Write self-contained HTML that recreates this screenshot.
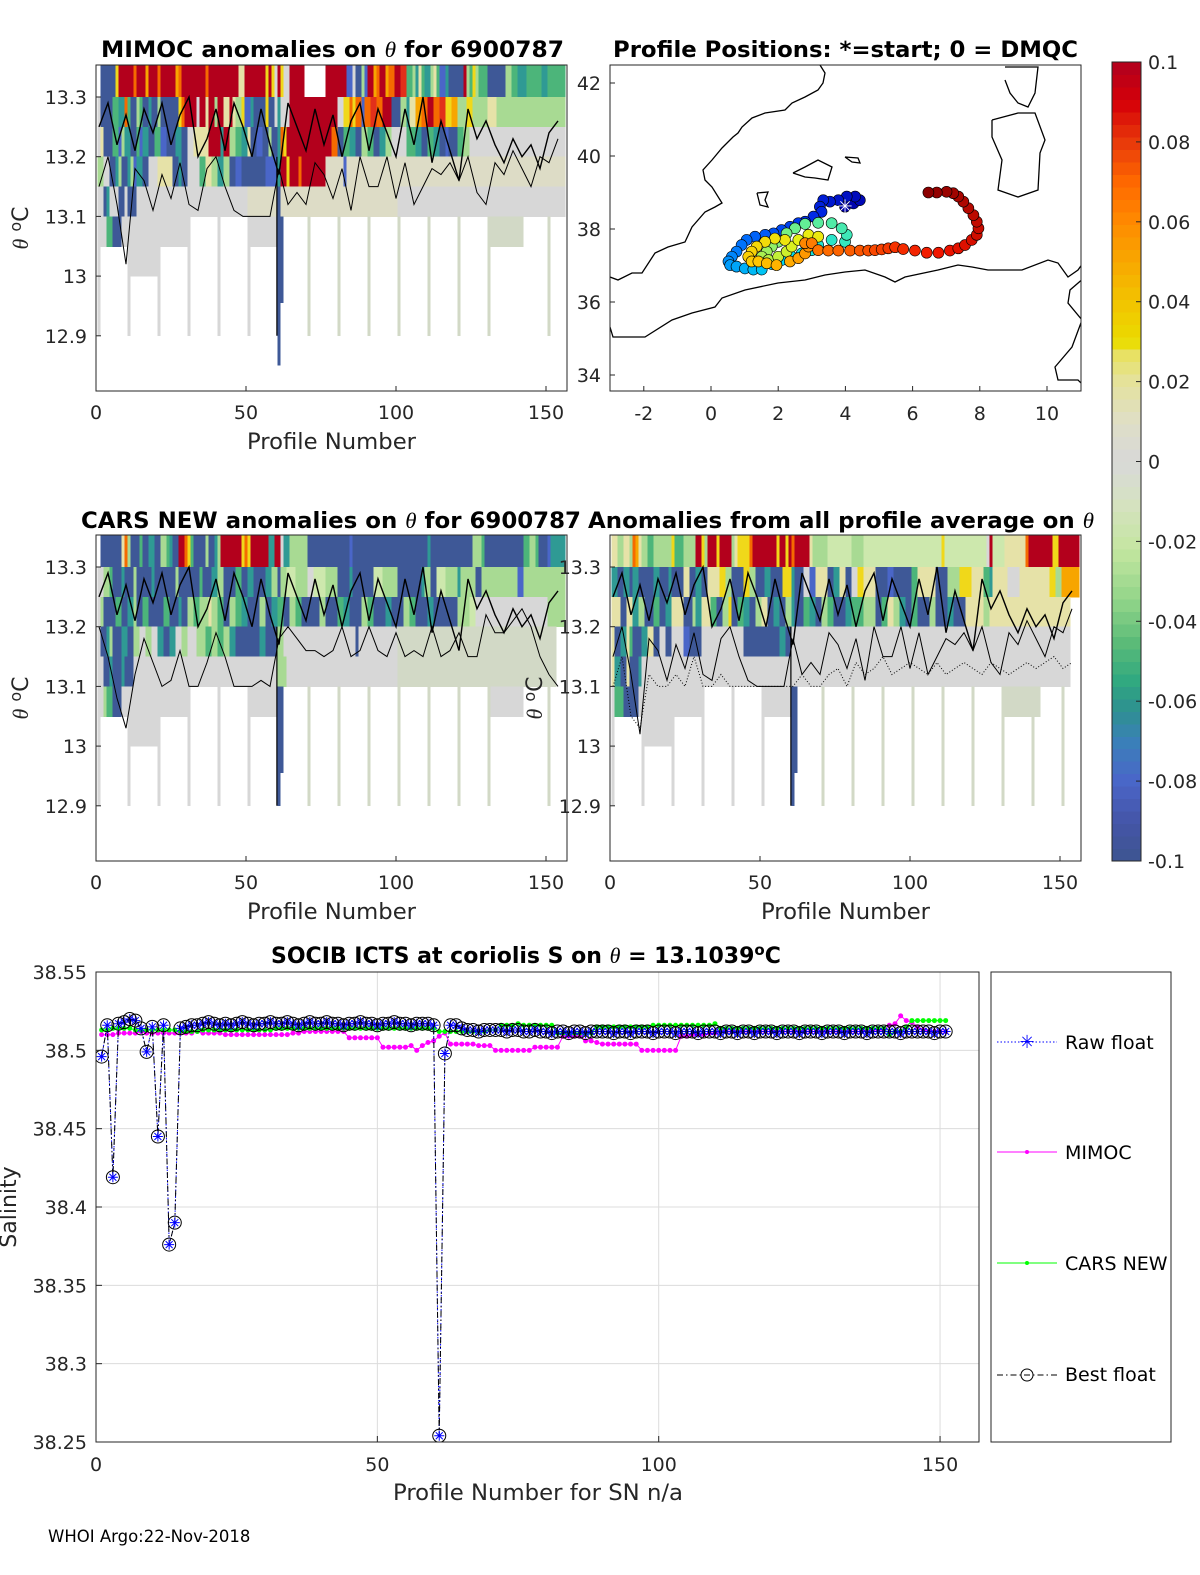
<!DOCTYPE html>
<html><head><meta charset="utf-8"><title>Float 6900787 anomaly and salinity diagnostics</title>
<style>
html,body{margin:0;padding:0;background:#fff;overflow:hidden;width:1200px;height:1575px;}
svg{display:block;font-family:"DejaVu Sans","Liberation Sans",sans-serif;}
.tk{font-size:19px;fill:#262626;}
.ttl{font-size:22px;font-weight:bold;fill:#000;}
.lab{font-size:22px;fill:#262626;}
</style></head>
<body>
<svg id="fig" xmlns="http://www.w3.org/2000/svg" width="1200" height="1575" viewBox="0 0 1200 1575">
<rect x="0" y="0" width="1200" height="1575" fill="#fff"/>
<defs>
<clipPath id="c1"><rect x="96" y="65" width="471" height="326"/></clipPath>
<clipPath id="c3"><rect x="96" y="535" width="471" height="326"/></clipPath>
<clipPath id="c4"><rect x="610" y="535" width="471" height="326"/></clipPath>
<clipPath id="c2"><rect x="610" y="65" width="471" height="326"/></clipPath>
<clipPath id="c5"><rect x="96" y="972" width="883" height="470"/></clipPath>
</defs>

<!-- Titles -->
<text class="ttl" x="101" y="57" textLength="463" lengthAdjust="spacingAndGlyphs">MIMOC anomalies on <tspan font-family="Liberation Serif" font-style="italic" font-weight="normal">θ</tspan>  for 6900787</text>
<text class="ttl" x="613" y="57" textLength="465" lengthAdjust="spacingAndGlyphs">Profile Positions: *=start; 0 = DMQC</text>
<text class="ttl" x="81" y="528" textLength="500" lengthAdjust="spacingAndGlyphs">CARS NEW anomalies on <tspan font-family="Liberation Serif" font-style="italic" font-weight="normal">θ</tspan> for 6900787</text>
<text class="ttl" x="588" y="528" textLength="506" lengthAdjust="spacingAndGlyphs">Anomalies from all profile average on <tspan font-family="Liberation Serif" font-style="italic" font-weight="normal">θ</tspan></text>
<text class="ttl" x="271" y="963">SOCIB ICTS at coriolis S on <tspan font-family="Liberation Serif" font-style="italic" font-weight="normal">θ</tspan> = 13.1039<tspan dy="-8" font-size="15">o</tspan><tspan dy="8">C</tspan></text>

<g id="p1"></g>
<g id="p2"></g>
<g id="p3"></g>
<g id="p4"></g>
<g id="cb"></g>
<g id="p5"></g>

<!-- axis labels -->
<text class="lab" x="247" y="449" textLength="169" lengthAdjust="spacingAndGlyphs">Profile Number</text>
<text class="lab" x="247" y="919" textLength="169" lengthAdjust="spacingAndGlyphs">Profile Number</text>
<text class="lab" x="761" y="919" textLength="169" lengthAdjust="spacingAndGlyphs">Profile Number</text>
<text class="lab" transform="translate(28,228) rotate(-90)" text-anchor="middle"><tspan font-family="Liberation Serif" font-style="italic">θ</tspan> <tspan dy="-7" font-size="16">o</tspan><tspan dy="7">C</tspan></text>
<text class="lab" transform="translate(28,698) rotate(-90)" text-anchor="middle"><tspan font-family="Liberation Serif" font-style="italic">θ</tspan> <tspan dy="-7" font-size="16">o</tspan><tspan dy="7">C</tspan></text>
<text class="lab" transform="translate(542,698) rotate(-90)" text-anchor="middle"><tspan font-family="Liberation Serif" font-style="italic">θ</tspan> <tspan dy="-7" font-size="16">o</tspan><tspan dy="7">C</tspan></text>
<text class="lab" x="393" y="1500" textLength="290" lengthAdjust="spacingAndGlyphs">Profile Number for SN n/a</text>
<text class="lab" transform="translate(16,1207) rotate(-90)" text-anchor="middle">Salinity</text>
<text x="48" y="1542" font-size="16.5" fill="#000">WHOI Argo:22-Nov-2018</text>

<!-- legend -->
<g>
<rect x="991" y="972" width="180" height="470" fill="#fff" stroke="#262626" stroke-width="1"/>
<g>
<line x1="997" y1="1042" x2="1057" y2="1042" stroke="#0000ff" stroke-dasharray="1.5,2"/>
<text x="1027" y="1048" text-anchor="middle" font-size="18" fill="#0000ff">✳</text>
<text x="1065" y="1049" font-size="19" fill="#000">Raw float</text></g>
<g>
<line x1="997" y1="1152" x2="1057" y2="1152" stroke="#ff00ff"/>
<circle cx="1027" cy="1152" r="2" fill="#ff00ff"/>
<text x="1065" y="1159" font-size="19" fill="#000">MIMOC</text></g>
<g>
<line x1="997" y1="1263" x2="1057" y2="1263" stroke="#00ff00"/>
<circle cx="1027" cy="1263" r="2" fill="#00ff00"/>
<text x="1065" y="1270" font-size="19" fill="#000">CARS NEW</text></g>
<g>
<line x1="997" y1="1375" x2="1057" y2="1375" stroke="#000" stroke-dasharray="6,3,1.5,3"/>
<circle cx="1027" cy="1375" r="6" fill="none" stroke="#000"/>
<text x="1065" y="1381" font-size="19" fill="#000">Best float</text></g>
</g>
</svg>

<script>
// ---------------- DATA ----------------
const profileTicks = [0, 50, 100, 150];
const thetaTicks = [13.3, 13.2, 13.1, 13.0, 12.9];
const thetaTickLabels = ["13.3", "13.2", "13.1", "13", "12.9"];
const lonTicks = [-2, 0, 2, 4, 6, 8, 10];
const latTicks = [42, 40, 38, 36, 34];
const cbTicks = [0.1, 0.08, 0.06, 0.04, 0.02, 0, -0.02, -0.04, -0.06, -0.08, -0.1];
const cbTickLabels = ["0.1", "0.08", "0.06", "0.04", "0.02", "0", "-0.02", "-0.04", "-0.06", "-0.08", "-0.1"];
const salTicks = [38.55, 38.5, 38.45, 38.4, 38.35, 38.3, 38.25];
const salTickLabels = ["38.55", "38.5", "38.45", "38.4", "38.35", "38.3", "38.25"];

const mimocRows = [
".:1 B:6 Y:7 R:12 O:13 R:16 o:17 R:20 O:21 R:26 o:27 O:28 R:36 O:37 R:47 y:49 R:56 Y:57 R:58 Y:59 w:60 R:61 Y:62 w:64 R:69 .:76 R:83 b:85 w:86 B:88 l:89 b:90 R:92 o:93 O:94 R:96 o:97 O:99 R:101 r:103 g:105 l:106 T:107 y:108 g:109 T:111 l:112 y:113 g:114 b:116 T:117 B:122 R:123 l:124 g:125 Y:126 l:127 g:130 B:136 l:138 g:140 T:143 g:148 T:150 g:156",
"w:1 B:5 g:7 T:9 O:10 g:11 B:13 l:14 g:15 B:17 T:18 B:20 l:21 B:27 Y:28 O:29 R:33 w:34 R:36 y:37 R:39 l:40 R:42 y:44 R:45 y:46 l:48 Y:49 b:51 T:52 B:56 Y:57 B:59 w:60 T:61 w:64 R:80 w:82 Y:84 O:85 Y:86 O:88 b:89 O:91 r:93 O:95 R:98 B:101 l:103 T:104 y:106 o:108 O:110 R:112 O:114 r:116 Y:118 o:120 l:123 Y:125 l:130 y:133 l:156",
"w:1 y:2 B:5 g:7 b:8 l:9 T:11 B:13 g:14 b:15 T:17 B:19 g:21 b:23 B:26 T:28 B:30 w:32 y:37 R:41 T:42 R:44 l:46 g:48 T:50 y:51 B:53 b:55 B:57 l:58 B:60 T:61 O:62 Y:63 R:78 O:80 B:82 g:84 T:86 B:88 l:90 g:92 B:94 T:96 l:98 w:103 g:106 T:108 B:110 g:112 T:114 B:116 b:117 B:120 g:122 l:124 w:156",
"l:2 w:4 B:6 T:7 l:8 B:10 T:11 l:12 b:13 T:15 B:17 w:20 y:25 B:27 T:28 B:30 w:34 g:36 y:38 l:40 T:42 l:44 B:46 b:48 B:56 b:60 T:61 R:63 Y:64 R:67 O:68 R:76 q:82 b:83 q:156",
"w:2 B:3 T:4 w:7 B:9 w:10 B:13 w:50 q:60 B:61 q:100 w:156",
"w:3 g:5 B:8 w:31 .:40 w:41 .:50 w:60 B:61 .:130 h:142 .:156",
"w:1 .:10 w:20 .:30 w:31 .:156"
];
const carsRows = [
".:1 B:8 y:9 O:10 l:11 B:14 g:15 B:17 T:19 B:21 l:23 g:24 T:25 B:27 R:29 O:30 Y:31 g:32 B:36 l:37 B:39 T:40 l:41 R:48 Y:49 O:50 Y:51 R:57 T:59 R:61 w:62 T:64 l:66 l:70 B:84 b:85 B:110 T:111 B:125 l:128 g:129 B:142 g:144 l:146 g:147 B:150 b:151 T:156",
"w:2 l:4 g:5 B:8 T:9 B:12 l:13 B:18 T:19 B:26 l:27 B:34 g:35 B:38 T:40 l:42 B:46 g:48 B:50 T:52 B:56 T:58 l:60 B:61 l:63 p:66 l:70 w:72 p:76 l:80 B:84 T:85 B:92 p:95 l:100 B:108 T:109 l:111 B:113 p:116 l:120 T:121 l:126 B:128 l:140 b:142 l:156",
"w:1 l:2 B:6 g:8 B:10 T:12 l:13 B:15 g:17 B:22 g:24 B:27 T:28 B:30 l:32 g:34 l:37 y:38 l:40 g:42 B:44 l:46 g:48 T:50 B:54 l:56 B:58 T:60 g:62 B:64 l:66 g:68 B:74 l:76 B:80 g:82 T:84 B:88 l:90 g:92 B:96 T:98 B:102 l:104 g:106 B:110 T:112 B:120 l:124 p:126 w:150 l:156",
"w:1 B:3 T:4 l:5 B:8 T:10 B:12 l:14 w:16 l:18 w:20 T:22 B:24 T:26 w:28 l:30 w:33 l:36 g:38 l:40 g:42 l:44 T:46 B:54 T:56 B:60 l:62 w:86 B:87 w:100 h:153 .:156",
"w:2 B:4 T:5 B:8 T:9 B:12 w:60 l:63 w:100 h:153 .:156",
"w:2 l:3 g:5 B:8 w:31 .:40 w:41 .:50 w:60 B:61 .:130 w:142 .:156",
"w:1 .:10 w:20 .:30 w:31 .:156"
];
const avgRows = [
"y:2 l:4 y:6 l:7 O:8 o:9 y:10 l:12 g:14 l:20 Y:21 g:24 l:28 R:30 Y:31 l:32 R:35 Y:36 R:40 l:41 y:42 Y:46 O:47 R:55 Y:56 R:58 Y:59 R:60 O:61 R:66 y:67 l:72 p:80 l:84 p:110 Y:111 p:125 w:126 R:127 p:131 y:138 O:139 R:147 Y:149 R:156",
"T:2 B:4 T:6 B:7 T:9 B:14 T:16 B:19 T:20 B:24 y:26 B:28 T:30 B:32 y:36 Y:38 l:40 B:44 Y:46 l:48 B:51 T:53 B:57 Y:60 T:61 B:64 w:66 b:68 y:72 B:74 T:76 y:78 B:80 w:82 Y:84 y:88 B:92 b:94 B:100 g:102 y:108 B:112 l:116 Y:120 y:124 g:126 T:127 y:132 w:136 y:146 Y:148 l:150 o:156",
"y:3 B:5 y:7 T:9 l:11 B:14 g:16 B:18 T:20 y:24 B:27 l:28 T:30 y:33 g:35 B:37 l:39 Y:40 B:42 g:44 T:46 B:48 l:50 y:52 B:54 T:56 B:58 l:60 T:61 B:64 g:66 T:68 B:70 l:72 g:74 B:78 T:80 g:84 l:88 B:90 g:92 y:94 l:96 T:98 B:100 g:102 B:106 l:108 B:112 T:114 B:118 y:124 l:126 y:153 .:156",
"y:1 B:3 T:5 y:6 g:7 B:10 T:12 y:14 B:16 w:18 B:20 w:24 b:26 B:30 w:44 B:56 T:58 B:60 w:153 .:156",
"y:1 T:3 B:5 y:6 B:9 T:10 w:153 .:156",
"y:1 g:4 B:9 w:31 .:40 w:41 .:50 w:60 B:61 .:130 h:143 .:156",
"w:1 .:10 w:20 .:30 w:31 .:156"
];
const deepProfilesA = [1, 11, 21, 31, 41, 51, 71, 81, 91, 101, 111, 121, 131, 151];
const deepProfilesB = [1, 11, 21, 31, 41, 51, 71, 81, 91, 101, 111, 121, 131, 141, 151];
const deepBlueProfile = 61;
const mimocDeepMin = 12.85;
const carsDeepMin = 12.9;
const avgDeepMin = 12.9;

const lineUpper = [13.25,13.29,13.22,13.27,13.21,13.28,13.24,13.29,13.22,13.27,13.3,13.2,13.23,13.28,13.21,13.29,13.25,13.2,13.28,13.22,13.17,13.29,13.25,13.21,13.28,13.22,13.27,13.2,13.26,13.29,13.21,13.28,13.24,13.2,13.28,13.22,13.3,13.19,13.26,13.21,13.16,13.28,13.23,13.26,13.22,13.19,13.23,13.2,13.22,13.18,13.24,13.26];
const lineLower = [13.15,13.2,13.12,13.02,13.18,13.16,13.11,13.17,13.13,13.19,13.12,13.11,13.18,13.2,13.15,13.11,13.1,13.1,13.1,13.1,13.18,13.12,13.14,13.12,13.19,13.17,13.13,13.18,13.11,13.2,13.15,13.15,13.2,13.13,13.19,13.12,13.15,13.18,13.17,13.19,13.16,13.2,13.14,13.12,13.19,13.17,13.21,13.18,13.15,13.2,13.19,13.23];
const lineLowerCars = [13.2,13.15,13.08,13.03,13.12,13.18,13.14,13.1,13.11,13.16,13.1,13.1,13.14,13.19,13.15,13.1,13.1,13.1,13.11,13.1,13.18,13.2,13.18,13.16,13.16,13.15,13.16,13.2,13.15,13.16,13.2,13.16,13.15,13.19,13.15,13.16,13.15,13.2,13.15,13.16,13.19,13.15,13.15,13.22,13.19,13.19,13.21,13.23,13.2,13.15,13.12,13.1];
const lineDottedAvg = [13.1,13.15,13.05,13.03,13.12,13.1,13.1,13.12,13.1,13.15,13.1,13.1,13.12,13.1,13.1,13.1,13.1,13.1,13.1,13.1,13.1,13.12,13.1,13.1,13.12,13.13,13.1,13.14,13.12,13.13,13.15,13.12,13.13,13.14,13.13,13.12,13.14,13.12,13.13,13.14,13.13,13.12,13.14,13.13,13.12,13.13,13.14,13.13,13.14,13.15,13.13,13.14];

const trackLon = [3.99,4.24,4.43,4.29,4.04,3.79,3.54,3.34,3.24,3.29,3.05,2.80,2.60,2.35,2.10,1.86,1.61,1.31,1.06,0.91,0.76,0.62,0.52,0.57,0.76,1.01,1.26,1.51,1.81,2.10,2.40,2.70,3.00,3.19,3.59,3.99,4.04,3.89,3.59,3.19,2.80,2.50,2.25,2.00,1.81,1.66,1.51,1.71,2.00,2.25,2.40,2.60,2.90,3.19,2.20,1.90,1.61,1.36,1.21,1.11,1.21,1.41,1.66,1.95,2.35,2.60,2.80,2.90,2.80,3.00,3.19,3.49,3.79,4.14,4.43,4.68,4.88,5.08,5.28,5.48,5.72,6.07,6.42,6.77,7.11,7.36,7.56,7.76,7.91,7.96,7.91,7.81,7.66,7.51,7.36,7.21,7.01,6.72,6.47];
const trackLat = [38.61,38.70,38.79,38.89,38.89,38.79,38.75,38.79,38.61,38.47,38.34,38.20,38.16,38.06,37.97,37.88,37.84,37.79,37.70,37.56,37.38,37.24,37.11,37.01,36.97,36.92,36.89,36.89,37.04,37.15,37.24,37.33,37.42,37.56,37.70,37.65,37.84,38.02,38.16,38.17,38.14,38.02,37.88,37.65,37.52,37.38,37.24,37.15,37.24,37.38,37.52,37.70,37.84,37.79,37.70,37.74,37.65,37.52,37.38,37.24,37.11,37.11,37.06,37.01,37.11,37.20,37.33,37.52,37.61,37.61,37.42,37.41,37.41,37.41,37.41,37.41,37.42,37.44,37.47,37.50,37.45,37.41,37.35,37.35,37.41,37.47,37.56,37.70,37.84,38.02,38.20,38.38,38.57,38.75,38.89,38.98,39.02,39.00,39.00];

const bestFloat = [38.496,38.516,38.419,38.517,38.518,38.520,38.519,38.514,38.499,38.515,
38.445,38.516,38.376,38.390,38.514,38.515,38.516,38.516,38.517,38.518,
38.517,38.516,38.517,38.516,38.517,38.518,38.517,38.516,38.517,38.517,
38.518,38.517,38.517,38.518,38.517,38.516,38.517,38.518,38.517,38.517,
38.518,38.517,38.517,38.516,38.517,38.517,38.518,38.517,38.517,38.516,
38.517,38.517,38.518,38.517,38.517,38.516,38.517,38.517,38.517,38.516,
38.254,38.498,38.516,38.516,38.514,38.513,38.513,38.512,38.513,38.513,
38.513,38.513,38.512,38.513,38.513,38.512,38.512,38.513,38.512,38.512,
38.511,38.512,38.512,38.511,38.512,38.512,38.511,38.512,38.512,38.512,
38.512,38.511,38.512,38.512,38.511,38.512,38.512,38.512,38.511,38.512,
38.512,38.512,38.511,38.512,38.512,38.512,38.511,38.512,38.512,38.512,
38.511,38.512,38.512,38.511,38.512,38.512,38.511,38.512,38.512,38.512,
38.511,38.512,38.512,38.512,38.511,38.512,38.512,38.512,38.511,38.512,
38.512,38.512,38.511,38.512,38.512,38.512,38.511,38.512,38.512,38.512,
38.512,38.512,38.511,38.512,38.512,38.512,38.512,38.512,38.511,38.512,
38.512];
const rawFloat = [38.496,38.516,38.419,38.517,38.518,38.520,38.519,38.514,38.499,38.515,
38.445,38.516,38.376,38.390,38.514,38.515,38.516,38.516,38.517,38.518,
38.517,38.516,38.517,38.516,38.517,38.518,38.517,38.516,38.517,38.517,
38.518,38.517,38.517,38.518,38.517,38.516,38.517,38.518,38.517,38.517,
38.518,38.517,38.517,38.516,38.517,38.517,38.518,38.517,38.517,38.516,
38.517,38.517,38.518,38.517,38.517,38.516,38.517,38.517,38.517,38.516,
38.254,38.498,38.516,38.516,38.514,38.513,38.513,38.512,38.513,38.513,
38.513,38.513,38.512,38.513,38.513,38.512,38.512,38.513,38.512,38.512,
38.511,38.512,38.512,38.511,38.512,38.512,38.511,38.512,38.512,38.512,
38.512,38.511,38.512,38.512,38.511,38.512,38.512,38.512,38.511,38.512,
38.512,38.512,38.511,38.512,38.512,38.512,38.511,38.512,38.512,38.512,
38.511,38.512,38.512,38.511,38.512,38.512,38.511,38.512,38.512,38.512,
38.511,38.512,38.512,38.512,38.511,38.512,38.512,38.512,38.511,38.512,
38.512,38.512,38.511,38.512,38.512,38.512,38.511,38.512,38.512,38.512,
38.512,38.512,38.511,38.512,38.512,38.512,38.512,38.512,38.511,38.512,
38.512];
const mimocSal = [38.510,38.510,38.510,38.511,38.511,38.511,38.511,38.512,38.511,38.511,
38.511,38.511,38.511,38.511,38.511,38.511,38.511,38.512,38.511,38.511,
38.511,38.511,38.510,38.510,38.510,38.510,38.510,38.510,38.510,38.510,
38.510,38.510,38.510,38.510,38.511,38.511,38.512,38.512,38.512,38.512,
38.512,38.512,38.512,38.512,38.508,38.508,38.508,38.508,38.508,38.508,
38.502,38.502,38.502,38.502,38.502,38.503,38.500,38.503,38.505,38.506,
38.509,38.511,38.504,38.504,38.504,38.504,38.504,38.503,38.503,38.503,
38.500,38.500,38.500,38.500,38.500,38.500,38.500,38.502,38.502,38.502,
38.502,38.502,38.509,38.509,38.509,38.509,38.506,38.506,38.505,38.504,
38.504,38.504,38.504,38.504,38.504,38.504,38.500,38.500,38.500,38.500,
38.500,38.500,38.500,38.509,38.509,38.510,38.510,38.510,38.511,38.511,
38.512,38.512,38.512,38.512,38.512,38.512,38.512,38.512,38.512,38.512,
38.512,38.512,38.512,38.512,38.512,38.512,38.512,38.512,38.512,38.512,
38.512,38.512,38.512,38.512,38.512,38.512,38.513,38.513,38.513,38.513,
38.516,38.517,38.522,38.519,38.518,38.515,38.513,38.512,38.512,38.512,
38.512];
const carsSal = [38.513,38.513,38.514,38.514,38.514,38.514,38.513,38.513,38.513,38.513,
38.513,38.513,38.513,38.513,38.512,38.512,38.512,38.512,38.513,38.513,
38.513,38.513,38.513,38.513,38.513,38.513,38.513,38.513,38.513,38.513,
38.513,38.514,38.514,38.514,38.514,38.514,38.514,38.514,38.514,38.514,
38.514,38.514,38.514,38.514,38.514,38.514,38.514,38.514,38.514,38.514,
38.514,38.514,38.514,38.514,38.514,38.514,38.514,38.514,38.514,38.514,
38.512,38.512,38.512,38.512,38.512,38.512,38.512,38.512,38.512,38.513,
38.513,38.516,38.516,38.516,38.517,38.516,38.516,38.516,38.516,38.516,
38.516,38.511,38.511,38.511,38.511,38.511,38.511,38.511,38.515,38.515,
38.515,38.515,38.515,38.515,38.515,38.515,38.515,38.515,38.516,38.516,
38.516,38.516,38.516,38.516,38.516,38.516,38.516,38.516,38.516,38.517,
38.514,38.514,38.514,38.514,38.514,38.514,38.514,38.514,38.514,38.514,
38.514,38.514,38.514,38.514,38.514,38.514,38.514,38.514,38.514,38.514,
38.514,38.514,38.514,38.514,38.514,38.514,38.514,38.514,38.514,38.514,
38.510,38.512,38.512,38.515,38.519,38.519,38.519,38.519,38.519,38.519,
38.519];

// ---------------- RENDERING ----------------
const NS = "http://www.w3.org/2000/svg";
function mk(parent, tag, attrs) {
  const e = document.createElementNS(NS, tag);
  for (const k in attrs) e.setAttribute(k, attrs[k]);
  parent.appendChild(e);
  return e;
}
const codeColor = {B:"#3e5897",b:"#4a66c8",T:"#2f9a94",g:"#4cb57a",l:"#a8da93",p:"#cde8ad",w:"#d7d7d7",q:"#dddcc6",h:"#d2d9c6",y:"#e6e2a8",Y:"#f0d81a",o:"#f7a500",O:"#f56a00",r:"#e2301a",R:"#b3001c"};
function parseRow(str) {
  const out = new Array(157).fill(".");
  let start = 1;
  str.trim().split(/\s+/).forEach(seg => {
    const parts = seg.split(":");
    const end = parseInt(parts[1], 10);
    for (let p = start; p <= end && p <= 156; p++) out[p] = parts[0];
    start = end + 1;
  });
  return out;
}

function thetaPanel(gid, clipId, x0, y0, rows, deepList, deepMin, upper, lower, dotted) {
  const g = document.getElementById(gid);
  const X = p => x0 + p * 3.0;
  const Y = t => y0 + 32 + (13.3 - t) * 597;
  const hg = mk(g, "g", {"clip-path": "url(#" + clipId + ")", "shape-rendering": "crispEdges"});
  
  
  rows.forEach((rowStr, k) => {
    const codes = parseRow(rowStr);
    const tTop = 13.35 - 0.05 * k, tBot = tTop - 0.05;
    const yTop = k === 0 ? y0 : Y(tTop);
    for (let p = 1; p <= 156; p++) {
      const c = codes[p];
      if (c === ".") continue;
      const r = mk(hg, "rect", {x: X(p - 0.5), y: yTop, width: 3.2, height: Y(tBot) - yTop + 0.5, fill: codeColor[c]});
      
      
    }
  });
  deepList.forEach(p => {
    const r = mk(hg, "rect", {x: X(p - 0.5), y: Y(13.1), width: 3, height: Y(12.9) - Y(13.1), fill: p >= 71 ? codeColor.h : codeColor.w});
    
    
  });
  const bc = mk(hg, "rect", {x: X(deepBlueProfile - 0.5), y: Y(13.1), width: 6, height: Y(12.955) - Y(13.1), fill: codeColor.B});
  
  
  const bc2 = mk(hg, "rect", {x: X(deepBlueProfile - 0.5), y: Y(13.1), width: 3, height: Y(deepMin) - Y(13.1), fill: codeColor.B});
  
  
  const lg = mk(g, "g", {"clip-path": "url(#" + clipId + ")", fill: "none", stroke: "#000"});
  
  
  const mkLine = (arr, w, dash, name) => {
    const pts = arr.map((t, i) => X(1 + 3 * i).toFixed(1) + "," + Y(t).toFixed(1)).join(" ");
    const pl = mk(lg, "polyline", {points: pts, "stroke-width": w});
    if (dash) pl.setAttribute("stroke-dasharray", dash);
    
    
  };
  mkLine(upper, 1.4, null, 'contour-upper');
  mkLine(lower, 1, null, 'contour-lower');
  if (dotted) mkLine(dotted, 1, "1,2", 'contour-dotted');
  const vl = mk(lg, "line", {x1: X(deepBlueProfile - 0.7), y1: Y(13.2), x2: X(deepBlueProfile - 0.7), y2: Y(12.9), "stroke-width": 1.2});
  
  
  const ax = mk(g, "rect", {x: x0, y: y0, width: 471, height: 326, fill: "none", stroke: "#262626", "stroke-width": 1});
  
  
  profileTicks.forEach(v => {
    const t = mk(g, "line", {x1: X(v), y1: y0 + 326, x2: X(v), y2: y0 + 321, stroke: "#262626"});
    
    
    const lb = mk(g, "text", {x: X(v), y: y0 + 354, "text-anchor": "middle", class: "tk"});
    lb.textContent = String(v);
    
    
  });
  thetaTicks.forEach((v, i) => {
    const t = mk(g, "line", {x1: x0, y1: Y(v), x2: x0 + 5, y2: Y(v), stroke: "#262626"});
    
    
    const lb = mk(g, "text", {x: x0 - 9, y: Y(v) + 7, "text-anchor": "end", class: "tk"});
    lb.textContent = thetaTickLabels[i];
    
    
  });
}
thetaPanel("p1", "c1", 96, 65, mimocRows, deepProfilesA, mimocDeepMin, lineUpper, lineLower, null);
thetaPanel("p3", "c3", 96, 535, carsRows, deepProfilesA, carsDeepMin, lineUpper, lineLowerCars, null);
thetaPanel("p4", "c4", 610, 535, avgRows, deepProfilesB, avgDeepMin, lineUpper, lineLower, lineDottedAvg);

// ---- map ----
(function () {
  const g = document.getElementById("p2");
  const LX = lon => 711 + lon * 33.6;
  const LY = lat => 229 - (lat - 38) * 36.5;
  const cg = mk(g, "g", {"clip-path": "url(#c2)", fill: "none", stroke: "#000", "stroke-width": 1.3});
  
  
  const coasts = [
    "820,65 825,73 823,83 818,90 805,97 792,103 785,110 765,113 752,118 742,127 738,133 733,137 722,148 712,160 703,170 705,180 712,187 722,203 715,207 705,212 692,227 685,242 668,247 655,253 642,273 632,273 618,280 610,277",
    "610,327 613,337 645,337 672,320 692,313 715,307 722,298 745,290 778,283 805,280 825,275 845,272 865,270 885,277 895,282 905,277 938,270 958,265 972,267 988,270 1022,270 1048,260 1058,263 1068,277 1078,270 1085,260",
    "793,173 805,167 818,160 832,167 828,180 815,178 805,177 793,173",
    "845,157 858,158 860,163 852,162 845,157",
    "757,193 768,192 765,200 768,207 760,205 757,193",
    "992,120 1018,113 1035,113 1045,140 1040,153 1038,190 1018,197 998,190 1002,160 992,137 992,120",
    "1005,67 1038,67 1035,93 1028,107 1018,103 1010,93 1005,80",
    "1085,277 1070,290 1068,303 1082,320 1072,347 1055,367 1058,380 1078,380 1085,387"
  ];
  coasts.forEach(pts => {
    const pl = mk(cg, "polyline", {points: pts});
    
    
  });
  const jet = [[0,[0,0,170]],[0.1,[0,40,230]],[0.2,[0,120,255]],[0.3,[0,220,240]],[0.42,[110,240,140]],[0.52,[230,240,20]],[0.62,[255,200,0]],[0.72,[255,110,0]],[0.85,[240,20,0]],[1,[140,0,0]]];
  const jetColor = t => {
    for (let i = 1; i < jet.length; i++) {
      if (t <= jet[i][0]) {
        const a = jet[i - 1], b = jet[i], f = (t - a[0]) / (b[0] - a[0]);
        const c = a[1].map((v, k) => Math.round(v + (b[1][k] - v) * f));
        return "rgb(" + c.join(",") + ")";
      }
    }
    return "rgb(140,0,0)";
  };
  const pg = mk(g, "g", {"clip-path": "url(#c2)"});
  
  
  const n = trackLon.length;
  for (let i = 0; i < n; i++) {
    const c = mk(pg, "circle", {cx: LX(trackLon[i]), cy: LY(trackLat[i]), r: 5.5, fill: jetColor(i / (n - 1)), stroke: "#000", "stroke-width": 0.6});
    
    
  }
  const st = mk(pg, "text", {x: LX(trackLon[0]), y: LY(trackLat[0]) + 6, "text-anchor": "middle", "font-size": "18", fill: "#fff"});
  st.textContent = "✳";
  
  
  const ax = mk(g, "rect", {x: 610, y: 65, width: 471, height: 326, fill: "none", stroke: "#262626"});
  
  
  lonTicks.forEach(v => {
    const t = mk(g, "line", {x1: LX(v), y1: 391, x2: LX(v), y2: 386, stroke: "#262626"});
    
    
    const lb = mk(g, "text", {x: LX(v), y: 420, "text-anchor": "middle", class: "tk"});
    lb.textContent = String(v);
    
    
  });
  latTicks.forEach(v => {
    const t = mk(g, "line", {x1: 610, y1: LY(v), x2: 615, y2: LY(v), stroke: "#262626"});
    
    
    const lb = mk(g, "text", {x: 601, y: LY(v) + 7, "text-anchor": "end", class: "tk"});
    lb.textContent = String(v);
    
    
  });
})();

// ---- colorbar ----
(function () {
  const g = document.getElementById("cb");
  const stops = [[-0.1,"#3d5590"],[-0.09,"#4555a8"],[-0.08,"#4a66c8"],[-0.07,"#3a80b8"],[-0.062,"#2e9090"],[-0.055,"#30a880"],[-0.045,"#5cbc78"],[-0.035,"#90d488"],[-0.022,"#c4e6a0"],[-0.01,"#d6e2c2"],[0,"#d8d8d8"],[0.01,"#dfdfc6"],[0.02,"#e5e29c"],[0.027,"#e8e160"],[0.03,"#eadc00"],[0.04,"#f2c400"],[0.05,"#f8a800"],[0.06,"#ff8a00"],[0.07,"#ff6800"],[0.08,"#e83a0a"],[0.09,"#d50008"],[0.1,"#b0001f"]];
  const hex = h => [1,3,5].map(i => parseInt(h.substr(i, 2), 16));
  const col = v => {
    for (let i = 1; i < stops.length; i++) if (v <= stops[i][0]) {
      const a = stops[i - 1], b = stops[i], f = (v - a[0]) / (b[0] - a[0]);
      const ca = hex(a[1]), cbb = hex(b[1]);
      return "rgb(" + ca.map((x, k) => Math.round(x + (cbb[k] - x) * f)).join(",") + ")";
    }
    return stops[stops.length - 1][1];
  };
  const Y = v => 62 + (0.1 - v) * 3995;
  const nb = 64;
  for (let i = 0; i < nb; i++) {
    const v0 = -0.1 + i * 0.2 / nb, v1 = v0 + 0.2 / nb;
    const r = mk(g, "rect", {x: 1112, y: Y(v1), width: 29, height: Y(v0) - Y(v1) + 0.6, fill: col((v0 + v1) / 2), "shape-rendering": "crispEdges"});
    
    
  }
  const bx = mk(g, "rect", {x: 1112, y: 62, width: 29, height: 799, fill: "none", stroke: "#262626"});
  
  
  cbTicks.forEach((v, i) => {
    const t = mk(g, "line", {x1: 1136, y1: Y(v), x2: 1141, y2: Y(v), stroke: "#262626"});
    
    
    const lb = mk(g, "text", {x: 1148, y: Y(v) + 7, class: "tk", "font-size": "18"});
    lb.textContent = cbTickLabels[i];
    
    
  });
})();

// ---- salinity chart ----
(function () {
  const g = document.getElementById("p5");
  const X = p => 96 + p * 5.627;
  const Y = s => 972 + (38.55 - s) * 1566.7;
  const gg = mk(g, "g", {stroke: "#dcdcdc", "stroke-width": 1});
  
  
  salTicks.forEach(v => {
    const l = mk(gg, "line", {x1: 96, y1: Y(v), x2: 979, y2: Y(v)});
    
    
  });
  profileTicks.forEach(v => {
    const l = mk(gg, "line", {x1: X(v), y1: 972, x2: X(v), y2: 1442});
    
    
  });
  const sg = mk(g, "g", {"clip-path": "url(#c5)"});
  
  
  const pts = arr => arr.map((s, i) => X(i + 1).toFixed(1) + "," + Y(s).toFixed(1)).join(" ");
  const m = mk(sg, "polyline", {points: pts(mimocSal), fill: "none", stroke: "#ff00ff", "stroke-width": 1});
  
  
  mimocSal.forEach((s, i) => {
    const c = mk(sg, "circle", {cx: X(i + 1), cy: Y(s), r: 2.5, fill: "#ff00ff"});
    
    
  });
  const cl = mk(sg, "polyline", {points: pts(carsSal), fill: "none", stroke: "#00ff00", "stroke-width": 1});
  
  
  carsSal.forEach((s, i) => {
    const c = mk(sg, "circle", {cx: X(i + 1), cy: Y(s), r: 2.5, fill: "#00ff00"});
    
    
  });
  const rl = mk(sg, "polyline", {points: pts(rawFloat), fill: "none", stroke: "#0000ff", "stroke-width": 1, "stroke-dasharray": "1.5,2"});
  
  
  const bl = mk(sg, "polyline", {points: pts(bestFloat), fill: "none", stroke: "#000", "stroke-width": 1, "stroke-dasharray": "6,3,1.5,3"});
  
  
  rawFloat.forEach((s, i) => {
    const x = X(i + 1), y = Y(s);
    const a = mk(sg, "path", {d: `M${x-5},${y}H${x+5}M${x},${y-5}V${y+5}M${x-3.5},${y-3.5}L${x+3.5},${y+3.5}M${x-3.5},${y+3.5}L${x+3.5},${y-3.5}`, stroke: "#0000ff", "stroke-width": 1});
    
    
  });
  bestFloat.forEach((s, i) => {
    const c = mk(sg, "circle", {cx: X(i + 1), cy: Y(s), r: 6.5, fill: "none", stroke: "#000", "stroke-width": 1});
    
    
  });
  const ax = mk(g, "rect", {x: 96, y: 972, width: 883, height: 470, fill: "none", stroke: "#262626"});
  
  
  profileTicks.forEach(v => {
    const t = mk(g, "line", {x1: X(v), y1: 1442, x2: X(v), y2: 1436, stroke: "#262626"});
    
    
    const lb = mk(g, "text", {x: X(v), y: 1471, "text-anchor": "middle", class: "tk"});
    lb.textContent = String(v);
    
    
  });
  salTicks.forEach((v, i) => {
    const t = mk(g, "line", {x1: 96, y1: Y(v), x2: 102, y2: Y(v), stroke: "#262626"});
    
    
    const lb = mk(g, "text", {x: 87, y: Y(v) + 7, "text-anchor": "end", class: "tk"});
    lb.textContent = salTickLabels[i];
    
    
  });
})();
</script>
</body></html>
